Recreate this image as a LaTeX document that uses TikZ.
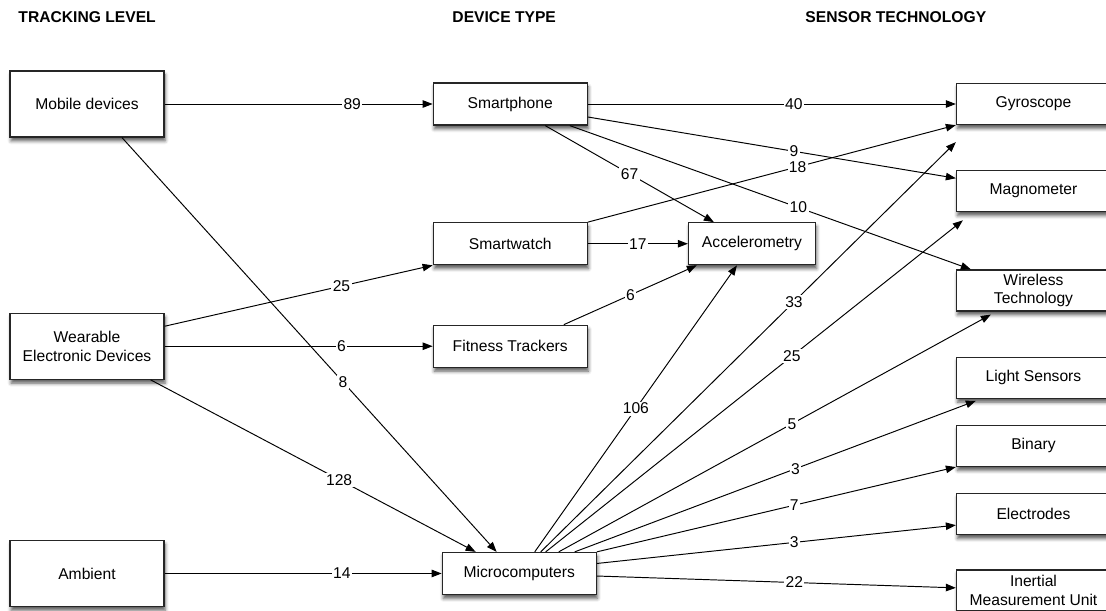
\documentclass[tikz,border=0pt]{standalone}
\usepackage{fontspec}
\setmainfont{Liberation Sans}
\usepackage{tikz}
\usetikzlibrary{positioning,arrows.meta,shadows.blur}

\tikzset{
  txt/.style={font=\fontsize{8.9pt}{10.6pt}\selectfont},
  box/.style={txt, draw=black!85, line width=0.7pt, fill=white, align=center,
    inner sep=1pt,
    blur shadow={shadow xshift=0.6pt, shadow yshift=-2.2pt,
      shadow blur radius=2pt, shadow opacity=65}},
  level/.style={box, minimum width=3.08cm, minimum height=1.32cm},
  device/.style={box, minimum width=3.08cm, minimum height=0.84cm},
  sensor/.style={box, minimum width=3.08cm, minimum height=0.82cm},
  head/.style={txt, font=\fontsize{8.9pt}{10.6pt}\selectfont\bfseries, anchor=west, inner sep=0pt},
  count/.style={txt, fill=white, inner sep=0.8pt}
}

\begin{document}
\begin{tikzpicture}[>={Triangle[length=2mm,width=1.5mm]}, line width=0.55pt]
		\useasboundingbox (0,0) rectangle (22.12,-12.2);

		\node[head] (h_level)  at (0.36,-0.34) {TRACKING LEVEL};
		\node[head] (h_device) at (9.04,-0.34) {DEVICE TYPE};
		\node[head] (h_sensor) at (16.1,-0.34) {SENSOR TECHNOLOGY};

		% tracking level
		\node[level] (mobile) at (1.74,-2.08) {Mobile devices};
		\node[level, below=3.5cm of mobile] (wearable) {Wearable\\Electronic Devices};
		\node[level, below=3.2cm of wearable] (ambient) {Ambient};

		% device type
		\node[device, right=5.36cm of mobile] (phone) {Smartphone};
		\node[device, below=1.93cm of phone] (watch) {Smartwatch};
		\node[device, right=5.36cm of wearable] (fitness) {Fitness Trackers};
		\node[device, right=5.54cm of ambient] (micro) {Microcomputers};
		\node[box, minimum width=2.54cm, minimum height=0.84cm, right=2cm of watch] (accel) {Accelerometry};

		% sensor technology
		\node[sensor, right=7.36cm of phone] (gyro) {Gyroscope};
		\node[sensor, below=0.9cm of gyro] (magno) {Magnometer};
		\node[sensor, below=1.14cm of magno] (wireless) {Wireless\\Technology};
		\node[sensor, below=0.9cm of wireless] (light) {Light Sensors};
		\node[sensor, below=0.52cm of light] (binary) {Binary};
		\node[sensor, below=0.52cm of binary] (electro) {Electrodes};
		\node[sensor, below=0.68cm of electro] (imu) {Inertial\\Measurement Unit};

		\path[->] 
		(mobile)  edge 
		node [count, pos=0.7] {89} 
		(phone); 

		\path[->] 
		([xshift=0.7cm]mobile.south)  edge 
		node [count, pos=0.59] {8} 
		([xshift=1.1cm]micro.north west); 

		\path[->] 
		([yshift=0.4cm]wearable.east)  edge 
		node [count, pos=0.66] {25} 
		(watch.south west); 

		\path[->] 
		(wearable)  edge 
		node [count, pos=0.66] {6} 
		(fitness); 

		\path[->] 
		([xshift=-0.28cm]wearable.south east)  edge 
		node [count, pos=0.58] {128} 
		([xshift=0.68cm]micro.north west); 

		\path[->] 
		(ambient)  edge 
		node [count, pos=0.64] {14} 
		(micro); 

		\path[->] 
		(phone)  edge 
		node [count, pos=0.56] {40} 
		(gyro); 

		\path[->] 
		([yshift=-0.26cm]phone.east)  edge 
		node [count, pos=0.56] {9} 
		([yshift=0.26cm]magno.west); 

		\path[->] 
		([xshift=-0.36cm]phone.south east)  edge 
		node [count, pos=0.57] {10} 
		([xshift=0.3cm]wireless.north west); 

		\path[->] 
		([xshift=0.7cm]phone.south)  edge 
		node [count, pos=0.5] {67} 
		([xshift=0.52cm]accel.north west); 

		\path[->] 
		(watch.north east)  edge 
		node [count, pos=0.57] {18} 
		(gyro.south west); 

		\path[->] 
		(watch)  edge 
		node [count, pos=0.5] {17} 
		(accel); 

		\path[->] 
		([xshift=-0.48cm]fitness.north east)  edge 
		node [count, pos=0.5] {6} 
		([xshift=0.18cm]accel.south west); 

		\path[->] 
		([xshift=0.31cm]micro.north)  edge 
		node [count, pos=0.5] {106} 
		([xshift=-0.3cm]accel.south); 

		\path[->] 
		([xshift=0.43cm]micro.north)  edge 
		node [count, pos=0.61] {33} 
		([yshift=-0.34cm]gyro.south west); 

		\path[->] 
		([xshift=0.53cm]micro.north)  edge 
		node [count, pos=0.59] {25} 
		([xshift=0.14cm, yshift=-0.16cm]magno.south west); 

		\path[->] 
		([xshift=0.79cm]micro.north)  edge 
		node [count, pos=0.54] {5} 
		([xshift=0.7cm, yshift=-0.06cm]wireless.south west); 

		\path[->] 
		([xshift=1.11cm]micro.north)  edge 
		node [count, pos=0.55] {3} 
		([xshift=0.4cm, yshift=-0.04cm]light.south west); 

		\path[->] 
		(micro.north east)  edge 
		node [count, pos=0.55] {7} 
		(binary.south west); 

		\path[->] 
		([yshift=0.2cm]micro.east)  edge 
		node [count, pos=0.55] {3} 
		([yshift=-0.22cm]electro.west); 

		\path[->] 
		(micro)  edge 
		node [count, pos=0.55] {22} 
		(imu); 

		\end{tikzpicture}
\end{document}
